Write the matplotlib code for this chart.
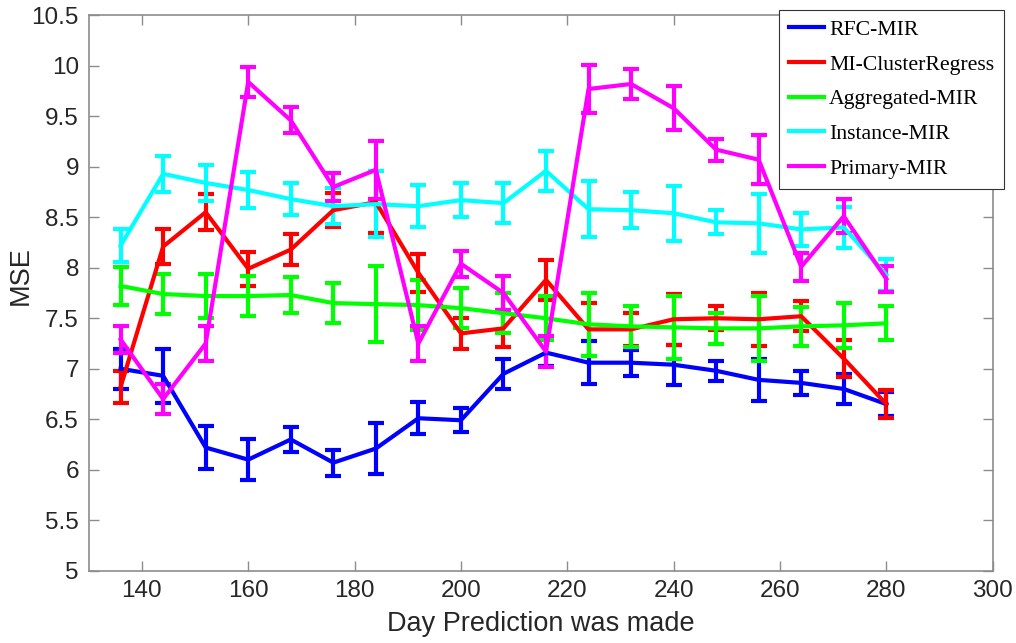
import matplotlib
matplotlib.use("Agg")
import matplotlib.pyplot as plt
from matplotlib.lines import Line2D
import numpy as np

# prediction days
days = [136, 144, 152, 160, 168, 176, 184, 192, 200, 208,
        216, 224, 232, 240, 248, 256, 264, 272, 280]

rfc_mir = [7.00, 6.93, 6.22, 6.10, 6.30, 6.07, 6.21, 6.51, 6.49, 6.95,
           7.16, 7.06, 7.06, 7.04, 6.98, 6.89, 6.86, 6.80, 6.65]
rfc_err = [0.20, 0.27, 0.21, 0.20, 0.12, 0.13, 0.25, 0.16, 0.12, 0.15,
           0.13, 0.21, 0.13, 0.20, 0.10, 0.21, 0.12, 0.15, 0.12]

mi_cluster = [6.82, 8.21, 8.55, 7.99, 8.18, 8.57, 8.65, 7.95, 7.35, 7.40,
              7.88, 7.39, 7.39, 7.49, 7.50, 7.49, 7.52, 7.10, 6.65]
mi_cluster_err = [0.16, 0.17, 0.18, 0.17, 0.15, 0.17, 0.31, 0.19, 0.15, 0.18,
                  0.20, 0.26, 0.16, 0.25, 0.12, 0.26, 0.15, 0.18, 0.14]

aggregated = [7.82, 7.74, 7.72, 7.72, 7.73, 7.65, 7.64, 7.63, 7.60, 7.55,
              7.50, 7.44, 7.42, 7.41, 7.40, 7.40, 7.42, 7.43, 7.45]
aggregated_err = [0.19, 0.20, 0.22, 0.20, 0.18, 0.20, 0.38, 0.25, 0.20, 0.20,
                  0.22, 0.31, 0.20, 0.31, 0.15, 0.32, 0.19, 0.22, 0.17]

instance = [8.22, 8.93, 8.84, 8.77, 8.68, 8.61, 8.63, 8.61, 8.67, 8.64,
            8.96, 8.58, 8.57, 8.54, 8.45, 8.44, 8.38, 8.40, 7.93]
instance_err = [0.16, 0.18, 0.18, 0.18, 0.16, 0.18, 0.33, 0.21, 0.17, 0.20,
                0.20, 0.28, 0.18, 0.27, 0.12, 0.29, 0.16, 0.20, 0.16]

primary = [7.29, 6.70, 7.25, 9.84, 9.46, 8.80, 8.97, 7.25, 8.04, 7.75,
           7.17, 9.77, 9.82, 9.58, 9.17, 9.07, 8.01, 8.51, 7.89]
primary_err = [0.13, 0.15, 0.17, 0.15, 0.13, 0.14, 0.29, 0.17, 0.13, 0.17,
               0.15, 0.24, 0.15, 0.22, 0.11, 0.24, 0.14, 0.17, 0.13]

series = [
    ("RFC-MIR", rfc_mir, rfc_err, "#0000ff"),
    ("MI-ClusterRegress", mi_cluster, mi_cluster_err, "#ff0000"),
    ("Aggregated-MIR", aggregated, aggregated_err, "#00ff00"),
    ("Instance-MIR", instance, instance_err, "#00ffff"),
    ("Primary-MIR", primary, primary_err, "#ff00ff"),
]

plt.rcParams['font.family'] = ['Liberation Sans', 'DejaVu Sans']

fig = plt.figure(figsize=(10.16, 6.43), dpi=100)
ax = fig.add_axes([0.0873, 0.1124, 0.8897, 0.8638])

handles = []
for name, vals, err, col in series:
    ax.errorbar(days, vals, yerr=err, color=col, linewidth=3,
                elinewidth=3, capsize=5.5, capthick=3)
    handles.append(Line2D([], [], color=col, linewidth=3, label=name))

ax.set_xlim(130, 300)
ax.set_ylim(5, 10.5)
ax.set_xticks(np.arange(140, 301, 20))
ax.set_yticks(np.arange(5, 10.51, 0.5))
ax.set_yticklabels(["5", "5.5", "6", "6.5", "7", "7.5", "8", "8.5",
                    "9", "9.5", "10", "10.5"])

for s in ax.spines.values():
    s.set_color("#8c8c8c")
    s.set_linewidth(1.2)
ax.tick_params(direction="in", length=7, width=1, color="#8c8c8c",
               labelsize=17.5, labelcolor="#262626", top=True, right=True,
               pad=7)

ax.set_xlabel("Day Prediction was made", fontsize=19.5, color="#262626",
              labelpad=6)
ax.set_ylabel("MSE", fontsize=19.5, color="#262626")
ax.yaxis.set_label_coords(-0.061, 0.532)

leg = ax.legend(handles=handles, loc="upper right",
                bbox_to_anchor=(1004 / 1016, 1 - 10 / 643),
                bbox_transform=fig.transFigure,
                prop={"family": ["Liberation Serif"], "size": 15.7},
                fancybox=False, framealpha=1, edgecolor="#333333",
                handlelength=1.6, handletextpad=0.25, borderaxespad=0,
                labelspacing=0.66, borderpad=0.45)
leg.get_frame().set_linewidth(0.8)

fig.savefig("out.png", dpi=100)
